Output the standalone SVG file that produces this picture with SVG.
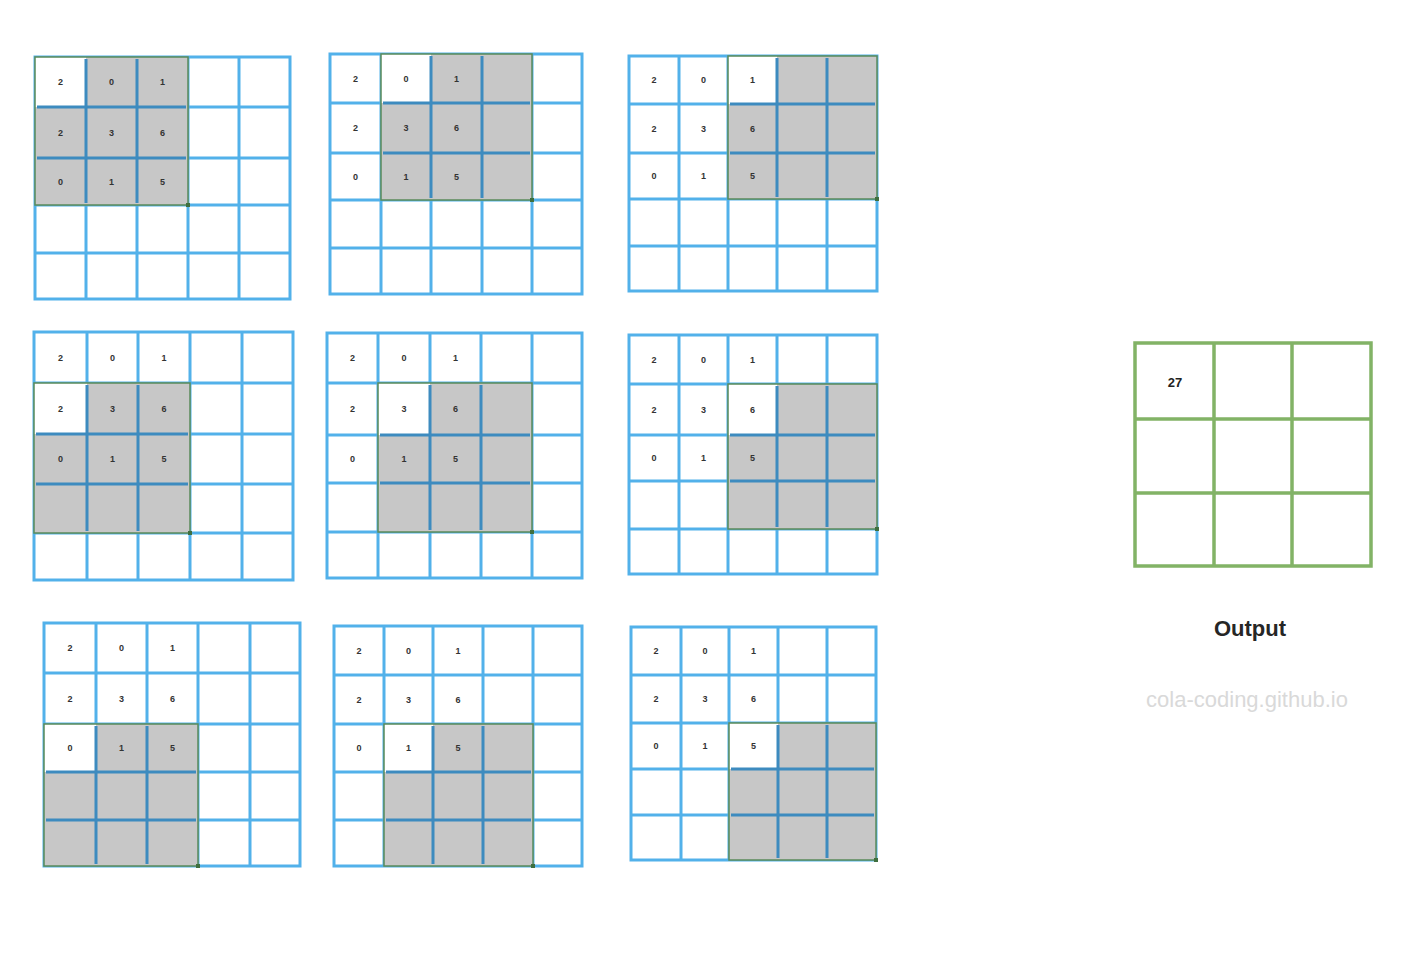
<svg xmlns="http://www.w3.org/2000/svg" width="1418" height="956" viewBox="0 0 1418 956">
<style>
.box{fill:#ffffff;stroke:#52b1ea;stroke-width:3}
.grid{fill:none;stroke:#52b1ea;stroke-width:3}
.shade{fill:#c7c7c7}
.wcell{fill:#ffffff}
.inner{fill:none;stroke:#3d8bbf;stroke-width:3}
.frame{fill:none;stroke:#5a8a5a;stroke-width:1.5}
.handle{fill:#3f6f3f}
.num{font-family:"Liberation Sans",Arial,sans-serif;font-size:9px;font-weight:bold;fill:#333333;text-anchor:middle;dominant-baseline:central}
.out{fill:#ffffff;stroke:#82b366;stroke-width:3.5}
.outl{fill:none;stroke:#82b366;stroke-width:3.5}
</style>
<rect width="1418" height="956" fill="#ffffff"/>

<g id="grid1">
<rect class="box" x="35" y="57" width="255" height="242"/>
<path class="grid" d="M86 57V299M137 57V299M188 57V299M239 57V299M35 107H290M35 158H290M35 205H290M35 253H290"/>
<rect class="shade" x="35" y="57" width="153" height="148"/>
<rect class="wcell" x="35" y="57" width="51" height="50"/>
<path class="inner" d="M86 59V203M137 59V203M37 107H186M37 158H186"/>
<rect class="frame" x="35" y="57" width="153" height="148"/>
<rect class="handle" x="186" y="203" width="4" height="4"/>
<text class="num" x="60.5" y="82">2</text><text class="num" x="111.5" y="82">0</text><text class="num" x="162.5" y="82">1</text>
<text class="num" x="60.5" y="132.5">2</text><text class="num" x="111.5" y="132.5">3</text><text class="num" x="162.5" y="132.5">6</text>
<text class="num" x="60.5" y="181.5">0</text><text class="num" x="111.5" y="181.5">1</text><text class="num" x="162.5" y="181.5">5</text>
</g>

<g id="grid2">
<rect class="box" x="330" y="54" width="252" height="240"/>
<path class="grid" d="M381 54V294M431 54V294M482 54V294M532 54V294M330 103H582M330 153H582M330 200H582M330 248H582"/>
<rect class="shade" x="381" y="54" width="151" height="146"/>
<rect class="wcell" x="381" y="54" width="50" height="49"/>
<path class="inner" d="M431 56V198M482 56V198M383 103H530M383 153H530"/>
<rect class="frame" x="381" y="54" width="151" height="146"/>
<rect class="handle" x="530" y="198" width="4" height="4"/>
<text class="num" x="355.5" y="78.5">2</text><text class="num" x="406" y="78.5">0</text><text class="num" x="456.5" y="78.5">1</text>
<text class="num" x="355.5" y="128">2</text><text class="num" x="406" y="128">3</text><text class="num" x="456.5" y="128">6</text>
<text class="num" x="355.5" y="176.5">0</text><text class="num" x="406" y="176.5">1</text><text class="num" x="456.5" y="176.5">5</text>
</g>

<g id="grid3">
<rect class="box" x="629" y="56" width="248" height="235"/>
<path class="grid" d="M679 56V291M728 56V291M777 56V291M827 56V291M629 104H877M629 153H877M629 199H877M629 246H877"/>
<rect class="shade" x="728" y="56" width="149" height="143"/>
<rect class="wcell" x="728" y="56" width="49" height="48"/>
<path class="inner" d="M777 58V197M827 58V197M730 104H875M730 153H875"/>
<rect class="frame" x="728" y="56" width="149" height="143"/>
<rect class="handle" x="875" y="197" width="4" height="4"/>
<text class="num" x="654" y="80">2</text><text class="num" x="703.5" y="80">0</text><text class="num" x="752.5" y="80">1</text>
<text class="num" x="654" y="128.5">2</text><text class="num" x="703.5" y="128.5">3</text><text class="num" x="752.5" y="128.5">6</text>
<text class="num" x="654" y="176">0</text><text class="num" x="703.5" y="176">1</text><text class="num" x="752.5" y="176">5</text>
</g>

<g id="grid4">
<rect class="box" x="34" y="332" width="259" height="248"/>
<path class="grid" d="M87 332V580M138 332V580M190 332V580M242 332V580M34 383H293M34 434H293M34 484H293M34 533H293"/>
<rect class="shade" x="34" y="383" width="156" height="150"/>
<rect class="wcell" x="34" y="383" width="53" height="51"/>
<path class="inner" d="M87 385V531M138 385V531M36 434H188M36 484H188"/>
<rect class="frame" x="34" y="383" width="156" height="150"/>
<rect class="handle" x="188" y="531" width="4" height="4"/>
<text class="num" x="60.5" y="357.5">2</text><text class="num" x="112.5" y="357.5">0</text><text class="num" x="164" y="357.5">1</text>
<text class="num" x="60.5" y="408.5">2</text><text class="num" x="112.5" y="408.5">3</text><text class="num" x="164" y="408.5">6</text>
<text class="num" x="60.5" y="459">0</text><text class="num" x="112.5" y="459">1</text><text class="num" x="164" y="459">5</text>
</g>

<g id="grid5">
<rect class="box" x="327" y="333" width="255" height="245"/>
<path class="grid" d="M378 333V578M430 333V578M481 333V578M532 333V578M327 383H582M327 435H582M327 483H582M327 532H582"/>
<rect class="shade" x="378" y="383" width="154" height="149"/>
<rect class="wcell" x="378" y="383" width="52" height="52"/>
<path class="inner" d="M430 385V530M481 385V530M380 435H530M380 483H530"/>
<rect class="frame" x="378" y="383" width="154" height="149"/>
<rect class="handle" x="530" y="530" width="4" height="4"/>
<text class="num" x="352.5" y="358">2</text><text class="num" x="404" y="358">0</text><text class="num" x="455.5" y="358">1</text>
<text class="num" x="352.5" y="409">2</text><text class="num" x="404" y="409">3</text><text class="num" x="455.5" y="409">6</text>
<text class="num" x="352.5" y="459">0</text><text class="num" x="404" y="459">1</text><text class="num" x="455.5" y="459">5</text>
</g>

<g id="grid6">
<rect class="box" x="629" y="335" width="248" height="239"/>
<path class="grid" d="M679 335V574M728 335V574M777 335V574M827 335V574M629 384H877M629 435H877M629 481H877M629 529H877"/>
<rect class="shade" x="728" y="384" width="149" height="145"/>
<rect class="wcell" x="728" y="384" width="49" height="51"/>
<path class="inner" d="M777 386V527M827 386V527M730 435H875M730 481H875"/>
<rect class="frame" x="728" y="384" width="149" height="145"/>
<rect class="handle" x="875" y="527" width="4" height="4"/>
<text class="num" x="654" y="359.5">2</text><text class="num" x="703.5" y="359.5">0</text><text class="num" x="752.5" y="359.5">1</text>
<text class="num" x="654" y="409.5">2</text><text class="num" x="703.5" y="409.5">3</text><text class="num" x="752.5" y="409.5">6</text>
<text class="num" x="654" y="458">0</text><text class="num" x="703.5" y="458">1</text><text class="num" x="752.5" y="458">5</text>
</g>

<g id="grid7">
<rect class="box" x="44" y="623" width="256" height="243"/>
<path class="grid" d="M96 623V866M147 623V866M198 623V866M250 623V866M44 673H300M44 724H300M44 772H300M44 820H300"/>
<rect class="shade" x="44" y="724" width="154" height="142"/>
<rect class="wcell" x="44" y="724" width="52" height="48"/>
<path class="inner" d="M96 726V864M147 726V864M46 772H196M46 820H196"/>
<rect class="frame" x="44" y="724" width="154" height="142"/>
<rect class="handle" x="196" y="864" width="4" height="4"/>
<text class="num" x="70" y="648">2</text><text class="num" x="121.5" y="648">0</text><text class="num" x="172.5" y="648">1</text>
<text class="num" x="70" y="698.5">2</text><text class="num" x="121.5" y="698.5">3</text><text class="num" x="172.5" y="698.5">6</text>
<text class="num" x="70" y="748">0</text><text class="num" x="121.5" y="748">1</text><text class="num" x="172.5" y="748">5</text>
</g>

<g id="grid8">
<rect class="box" x="334" y="626" width="248" height="240"/>
<path class="grid" d="M384 626V866M433 626V866M483 626V866M533 626V866M334 675H582M334 724H582M334 772H582M334 820H582"/>
<rect class="shade" x="384" y="724" width="149" height="142"/>
<rect class="wcell" x="384" y="724" width="49" height="48"/>
<path class="inner" d="M433 726V864M483 726V864M386 772H531M386 820H531"/>
<rect class="frame" x="384" y="724" width="149" height="142"/>
<rect class="handle" x="531" y="864" width="4" height="4"/>
<text class="num" x="359" y="650.5">2</text><text class="num" x="408.5" y="650.5">0</text><text class="num" x="458" y="650.5">1</text>
<text class="num" x="359" y="699.5">2</text><text class="num" x="408.5" y="699.5">3</text><text class="num" x="458" y="699.5">6</text>
<text class="num" x="359" y="748">0</text><text class="num" x="408.5" y="748">1</text><text class="num" x="458" y="748">5</text>
</g>

<g id="grid9">
<rect class="box" x="631" y="627" width="245" height="233"/>
<path class="grid" d="M681 627V860M729 627V860M778 627V860M827 627V860M631 675H876M631 723H876M631 769H876M631 815H876"/>
<rect class="shade" x="729" y="723" width="147" height="137"/>
<rect class="wcell" x="729" y="723" width="49" height="46"/>
<path class="inner" d="M778 725V858M827 725V858M731 769H874M731 815H874"/>
<rect class="frame" x="729" y="723" width="147" height="137"/>
<rect class="handle" x="874" y="858" width="4" height="4"/>
<text class="num" x="656" y="651">2</text><text class="num" x="705" y="651">0</text><text class="num" x="753.5" y="651">1</text>
<text class="num" x="656" y="699">2</text><text class="num" x="705" y="699">3</text><text class="num" x="753.5" y="699">6</text>
<text class="num" x="656" y="746">0</text><text class="num" x="705" y="746">1</text><text class="num" x="753.5" y="746">5</text>
</g>

<g id="output">
<rect class="out" x="1135" y="343" width="236" height="223"/>
<path class="outl" d="M1214 343V566M1292 343V566M1135 419H1371M1135 493H1371"/>
<text x="1175" y="382" font-family="'Liberation Sans',Arial,sans-serif" font-size="13" font-weight="bold" fill="#222222" text-anchor="middle" dominant-baseline="central">27</text>
</g>

<g id="labels">
<text x="1250" y="636" font-family="'Liberation Sans',Arial,sans-serif" font-size="22" font-weight="bold" fill="#262626" text-anchor="middle">Output</text>
<text x="1247" y="707" font-family="'Liberation Sans',Arial,sans-serif" font-size="22" fill="#d9d9d9" text-anchor="middle">cola-coding.github.io</text>
</g>
</svg>
